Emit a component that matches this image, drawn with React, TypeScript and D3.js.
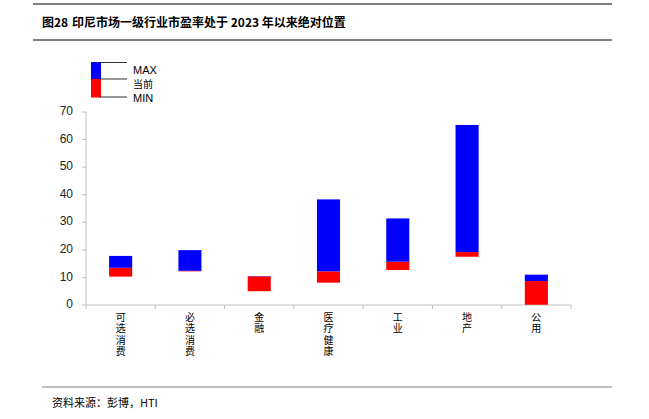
import React from "react";
import * as d3 from "d3";

const categories = ["可选消费", "必选消费", "金融", "医疗健康", "工业", "地产", "公用"];
const maxValues = [17.8, 19.9, 10.5, 38.3, 31.4, 65.3, 11.0];
const currentValues = [13.5, 12.4, 10.4, 12.2, 15.7, 19.2, 8.7];
const minValues = [10.3, 12.2, 5.0, 8.1, 12.7, 17.5, 0.1];
const yTicks = [0, 10, 20, 30, 40, 50, 60, 70];
const legendLabels = ["MAX", "当前", "MIN"];
const titleNo = "图28";
const title = "印尼市场一级行业市盈率处于 2023 年以来绝对位置";
const source = "资料来源：彭博，HTI";

const W = 649;
const H = 419;
const plot = { left: 86, right: 571, top: 112, bottom: 305 };
const BLUE = "#0000FF";
const RED = "#FF0000";
const AXIS = "#BFBFBF";
const cjk = "'Noto Sans CJK SC', sans-serif";
const latin = "'Liberation Sans', Arial, sans-serif";

export default function App() {
  const x = d3.scaleBand<string>().domain(categories).range([plot.left, plot.right]);
  const y = d3.scaleLinear().domain([0, 70]).range([plot.bottom, plot.top]);
  const barW = x.bandwidth() / 3;
  const boundaries = categories.map((c) => x(c)!).concat([plot.right]);

  return (
    <svg width={W} height={H} style={{ position: "absolute", left: 0, top: 0, background: "#fff" }}>
      <line x1={33} x2={612} y1={4} y2={4} stroke="#7f7f7f" strokeWidth={2} />
      <text x={42} y={27} fontFamily={cjk} fontWeight="bold" fontSize={12} fill="#000">
        {titleNo}
      </text>
      <text x={72} y={27} fontFamily={cjk} fontWeight="bold" fontSize={12} fill="#000">
        {title}
      </text>
      <line x1={33} x2={612} y1={40} y2={40} stroke="#000" strokeWidth={1} />

      {/* legend */}
      <rect x={91} y={62} width={10} height={17} fill={BLUE} />
      <rect x={91} y={79} width={10} height={18.5} fill={RED} />
      {[62.5, 79, 97].map((ly, i) => (
        <line key={i} x1={100} x2={127} y1={ly} y2={ly} stroke="#000" strokeWidth={0.8} />
      ))}
      {legendLabels.map((l, i) => (
        <text
          key={l}
          x={133}
          y={[71, 85, 99][i]}
          dominantBaseline="middle"
          fontFamily={i === 1 ? cjk : latin}
          fontSize={i === 1 ? 10 : 11}
          fill="#000"
        >
          {l}
        </text>
      ))}

      {/* y axis */}
      <line x1={plot.left} x2={plot.left} y1={plot.top} y2={plot.bottom} stroke={AXIS} />
      {yTicks.map((t) => (
        <g key={t}>
          <line x1={plot.left - 4} x2={plot.left} y1={y(t)} y2={y(t)} stroke={AXIS} />
          <text
            x={73}
            y={y(t)}
            textAnchor="end"
            dominantBaseline="middle"
            fontFamily={latin}
            fontSize={12}
            fill="#222"
          >
            {t}
          </text>
        </g>
      ))}

      {/* x axis */}
      <line x1={plot.left} x2={plot.right} y1={plot.bottom} y2={plot.bottom} stroke={AXIS} />
      {boundaries.map((bx, i) => (
        <line key={i} x1={bx} x2={bx} y1={plot.bottom} y2={plot.bottom + 4} stroke={AXIS} />
      ))}

      {/* bars */}
      {categories.map((c, i) => {
        const cx = x(c)! + x.bandwidth() / 2;
        return (
          <g key={c}>
            <rect
              x={cx - barW / 2}
              y={y(currentValues[i])}
              width={barW}
              height={y(minValues[i]) - y(currentValues[i])}
              fill={RED}
            />
            <rect
              x={cx - barW / 2}
              y={y(maxValues[i])}
              width={barW}
              height={y(currentValues[i]) - y(maxValues[i])}
              fill={BLUE}
            />
          </g>
        );
      })}

      {/* x labels vertical */}
      {categories.map((c) => {
        const cx = x(c)! + x.bandwidth() / 2;
        return (
          <text
            key={c}
            x={cx}
            y={312}
            style={{ writingMode: "vertical-rl", letterSpacing: "1.5px" }}
            fontFamily={cjk}
            fontSize={10}
            fill="#000"
          >
            {c}
          </text>
        );
      })}

      <line x1={42} x2={612} y1={387} y2={387} stroke="#7f7f7f" strokeWidth={1} />
      <text x={52} y={404} dominantBaseline="middle" fontFamily={cjk} fontSize={11} fill="#000">
        {source}
      </text>
    </svg>
  );
}
